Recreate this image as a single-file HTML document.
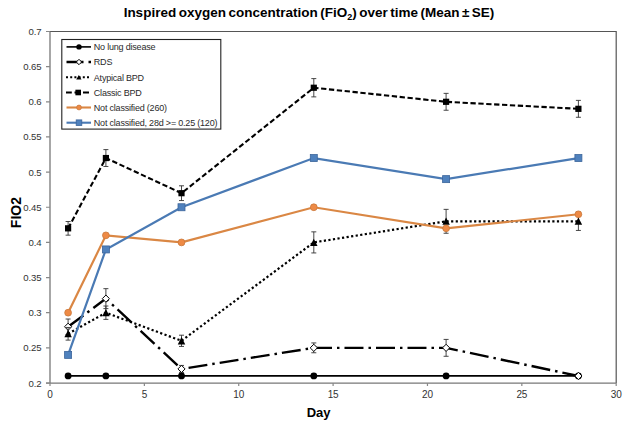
<!DOCTYPE html><html><head><meta charset="utf-8"><style>html,body{margin:0;padding:0;background:#fff;width:629px;height:427px;overflow:hidden}svg{display:block}text{font-family:"Liberation Sans",sans-serif}</style></head><body>
<svg width="629" height="427" viewBox="0 0 629 427">
<rect width="629" height="427" fill="#fff"/>
<text x="309" y="17.2" font-size="13.5" font-weight="bold" text-anchor="middle" word-spacing="-1.25" fill="#000">Inspired oxygen concentration (FiO<tspan font-size="9" dy="3">2</tspan><tspan dy="-3">) over time (Mean </tspan>± SE)</text>
<path d="M49.2 31.5H616.2V383" fill="none" stroke="#555" stroke-width="1.2"/>
<path d="M50 31.5V383.2M46 383.2H616.2" fill="none" stroke="#787878" stroke-width="1.3"/>
<path d="M46 383.00H50 M46 347.85H50 M46 312.70H50 M46 277.55H50 M46 242.40H50 M46 207.25H50 M46 172.10H50 M46 136.95H50 M46 101.80H50 M46 66.65H50 M46 31.50H50" stroke="#888" stroke-width="1.2"/>
<path d="M50.00 383V386 M144.37 383V386 M238.73 383V386 M333.10 383V386 M427.46 383V386 M521.83 383V386 M616.19 383V386" stroke="#888" stroke-width="1.2"/>
<text x="41.5" y="386.50" font-size="9.6" letter-spacing="-0.1" text-anchor="end" fill="#333">0.2</text>
<text x="41.5" y="351.35" font-size="9.6" letter-spacing="-0.1" text-anchor="end" fill="#333">0.25</text>
<text x="41.5" y="316.20" font-size="9.6" letter-spacing="-0.1" text-anchor="end" fill="#333">0.3</text>
<text x="41.5" y="281.05" font-size="9.6" letter-spacing="-0.1" text-anchor="end" fill="#333">0.35</text>
<text x="41.5" y="245.90" font-size="9.6" letter-spacing="-0.1" text-anchor="end" fill="#333">0.4</text>
<text x="41.5" y="210.75" font-size="9.6" letter-spacing="-0.1" text-anchor="end" fill="#333">0.45</text>
<text x="41.5" y="175.60" font-size="9.6" letter-spacing="-0.1" text-anchor="end" fill="#333">0.5</text>
<text x="41.5" y="140.45" font-size="9.6" letter-spacing="-0.1" text-anchor="end" fill="#333">0.55</text>
<text x="41.5" y="105.30" font-size="9.6" letter-spacing="-0.1" text-anchor="end" fill="#333">0.6</text>
<text x="41.5" y="70.15" font-size="9.6" letter-spacing="-0.1" text-anchor="end" fill="#333">0.65</text>
<text x="41.5" y="35.00" font-size="9.6" letter-spacing="-0.1" text-anchor="end" fill="#333">0.7</text>
<text x="50.00" y="398" font-size="10" letter-spacing="-0.2" text-anchor="middle" fill="#333">0</text>
<text x="144.37" y="398" font-size="10" letter-spacing="-0.2" text-anchor="middle" fill="#333">5</text>
<text x="238.73" y="398" font-size="10" letter-spacing="-0.2" text-anchor="middle" fill="#333">10</text>
<text x="333.10" y="398" font-size="10" letter-spacing="-0.2" text-anchor="middle" fill="#333">15</text>
<text x="427.46" y="398" font-size="10" letter-spacing="-0.2" text-anchor="middle" fill="#333">20</text>
<text x="521.83" y="398" font-size="10" letter-spacing="-0.2" text-anchor="middle" fill="#333">25</text>
<text x="616.19" y="398" font-size="10" letter-spacing="-0.2" text-anchor="middle" fill="#333">30</text>
<text x="318.6" y="416.8" font-size="13" font-weight="bold" text-anchor="middle" fill="#000">Day</text>
<text transform="translate(21.3 212.6) rotate(-90)" font-size="14" font-weight="bold" text-anchor="middle" fill="#000">FIO2</text>
<polyline points="68.10,375.97 105.90,375.97 181.50,375.97 313.80,375.97 446.10,375.97 578.40,375.97" fill="none" stroke="#000" stroke-width="1.8"/>
<circle cx="68.10" cy="375.97" r="3.4" fill="#000"/>
<circle cx="105.90" cy="375.97" r="3.4" fill="#000"/>
<circle cx="181.50" cy="375.97" r="3.4" fill="#000"/>
<circle cx="313.80" cy="375.97" r="3.4" fill="#000"/>
<circle cx="446.10" cy="375.97" r="3.4" fill="#000"/>
<circle cx="578.40" cy="375.97" r="3.4" fill="#000"/>
<path d="M68.10 319.03V334.49M65.60 319.03H70.60M65.60 334.49H70.60 M105.90 288.66V308.62M103.40 288.66H108.40M103.40 308.62H108.40 M181.50 365.43V372.45M179.00 365.43H184.00M179.00 372.45H184.00 M313.80 342.93V352.77M311.30 342.93H316.30M311.30 352.77H316.30 M446.10 339.41V356.29M443.60 339.41H448.60M443.60 356.29H448.60" fill="none" stroke="#333" stroke-width="0.9"/>
<polyline points="68.10,326.76 105.90,298.64 181.50,368.94 313.80,347.85 446.10,347.85 578.40,375.97" fill="none" stroke="#000" stroke-width="2.4" stroke-dasharray="19 5 2.5 5"/>
<path d="M68.10 323.16L71.70 326.76L68.10 330.36L64.50 326.76Z" fill="#fff" stroke="#000" stroke-width="1"/>
<path d="M105.90 295.04L109.50 298.64L105.90 302.24L102.30 298.64Z" fill="#fff" stroke="#000" stroke-width="1"/>
<path d="M181.50 365.34L185.10 368.94L181.50 372.54L177.90 368.94Z" fill="#fff" stroke="#000" stroke-width="1"/>
<path d="M313.80 344.25L317.40 347.85L313.80 351.45L310.20 347.85Z" fill="#fff" stroke="#000" stroke-width="1"/>
<path d="M446.10 344.25L449.70 347.85L446.10 351.45L442.50 347.85Z" fill="#fff" stroke="#000" stroke-width="1"/>
<path d="M578.40 372.37L582.00 375.97L578.40 379.57L574.80 375.97Z" fill="#fff" stroke="#000" stroke-width="1"/>
<path d="M68.10 327.46V340.12M65.60 327.46H70.60M65.60 340.12H70.60 M105.90 306.02V319.38M103.40 306.02H108.40M103.40 319.38H108.40 M181.50 335.20V346.44M179.00 335.20H184.00M179.00 346.44H184.00 M313.80 231.85V252.94M311.30 231.85H316.30M311.30 252.94H316.30 M446.10 209.36V233.26M443.60 209.36H448.60M443.60 233.26H448.60 M578.40 212.17V230.45M575.90 212.17H580.90M575.90 230.45H580.90" fill="none" stroke="#333" stroke-width="0.9"/>
<polyline points="68.10,333.79 105.90,312.70 181.50,340.82 313.80,242.40 446.10,221.31 578.40,221.31" fill="none" stroke="#000" stroke-width="2.2" stroke-dasharray="2.2 2.4"/>
<path d="M68.10 330.04L71.85 337.35L64.35 337.35Z" fill="#000"/>
<path d="M105.90 308.95L109.65 316.26L102.15 316.26Z" fill="#000"/>
<path d="M181.50 337.07L185.25 344.38L177.75 344.38Z" fill="#000"/>
<path d="M313.80 238.65L317.55 245.96L310.05 245.96Z" fill="#000"/>
<path d="M446.10 217.56L449.85 224.87L442.35 224.87Z" fill="#000"/>
<path d="M578.40 217.56L582.15 224.87L574.65 224.87Z" fill="#000"/>
<path d="M68.10 221.52V235.16M65.60 221.52H70.60M65.60 235.16H70.60 M105.90 149.60V166.48M103.40 149.60H108.40M103.40 166.48H108.40 M181.50 185.81V200.57M179.00 185.81H184.00M179.00 200.57H184.00 M313.80 78.60V96.88M311.30 78.60H316.30M311.30 96.88H316.30 M446.10 93.36V110.24M443.60 93.36H448.60M443.60 110.24H448.60 M578.40 100.39V117.27M575.90 100.39H580.90M575.90 117.27H580.90" fill="none" stroke="#333" stroke-width="0.9"/>
<polyline points="68.10,228.34 105.90,158.04 181.50,193.19 313.80,87.74 446.10,101.80 578.40,108.83" fill="none" stroke="#000" stroke-width="2.1" stroke-dasharray="5.3 2.6"/>
<rect x="65.00" y="225.24" width="6.2" height="6.2" fill="#000"/>
<rect x="102.80" y="154.94" width="6.2" height="6.2" fill="#000"/>
<rect x="178.40" y="190.09" width="6.2" height="6.2" fill="#000"/>
<rect x="310.70" y="84.64" width="6.2" height="6.2" fill="#000"/>
<rect x="443.00" y="98.70" width="6.2" height="6.2" fill="#000"/>
<rect x="575.30" y="105.73" width="6.2" height="6.2" fill="#000"/>
<polyline points="68.10,312.70 105.90,235.37 181.50,242.40 313.80,207.25 446.10,228.34 578.40,214.28" fill="none" stroke="#DA8744" stroke-width="2.2"/>
<circle cx="68.10" cy="312.70" r="3.4" fill="#EE8A45" stroke="#C9793C" stroke-width="0.8"/>
<circle cx="105.90" cy="235.37" r="3.4" fill="#EE8A45" stroke="#C9793C" stroke-width="0.8"/>
<circle cx="181.50" cy="242.40" r="3.4" fill="#EE8A45" stroke="#C9793C" stroke-width="0.8"/>
<circle cx="313.80" cy="207.25" r="3.4" fill="#EE8A45" stroke="#C9793C" stroke-width="0.8"/>
<circle cx="446.10" cy="228.34" r="3.4" fill="#EE8A45" stroke="#C9793C" stroke-width="0.8"/>
<circle cx="578.40" cy="214.28" r="3.4" fill="#EE8A45" stroke="#C9793C" stroke-width="0.8"/>
<polyline points="68.10,354.88 105.90,249.43 181.50,207.25 313.80,158.04 446.10,179.13 578.40,158.04" fill="none" stroke="#4A7AB4" stroke-width="2.2"/>
<rect x="64.60" y="351.38" width="7.0" height="7.0" fill="#4F81BD" stroke="#3C659B" stroke-width="0.8"/>
<rect x="102.40" y="245.93" width="7.0" height="7.0" fill="#4F81BD" stroke="#3C659B" stroke-width="0.8"/>
<rect x="178.00" y="203.75" width="7.0" height="7.0" fill="#4F81BD" stroke="#3C659B" stroke-width="0.8"/>
<rect x="310.30" y="154.54" width="7.0" height="7.0" fill="#4F81BD" stroke="#3C659B" stroke-width="0.8"/>
<rect x="442.60" y="175.63" width="7.0" height="7.0" fill="#4F81BD" stroke="#3C659B" stroke-width="0.8"/>
<rect x="574.90" y="154.54" width="7.0" height="7.0" fill="#4F81BD" stroke="#3C659B" stroke-width="0.8"/>
<rect x="61.8" y="39.5" width="159" height="89.6" fill="#fff" stroke="#222" stroke-width="1.1"/>
<path d="M66.5 46.9H91.0" stroke="#000" stroke-width="1.6"/>
<circle cx="79.00" cy="46.90" r="2.7" fill="#000"/>
<path d="M66.5 62.0H91.0" stroke="#000" stroke-width="2.3" stroke-dasharray="17 5 2.5 5"/>
<path d="M79.00 59.30L81.70 62.00L79.00 64.70L76.30 62.00Z" fill="#fff" stroke="#000" stroke-width="1"/>
<path d="M66 77.3H89" stroke="#000" stroke-width="2.1" stroke-dasharray="2 2.2"/>
<path d="M78.85 75.1L81.5 79.6L76.2 79.6Z" fill="#000"/>
<path d="M66 92.5H71.8M74.5 92.5H81M83 92.5H89" stroke="#000" stroke-width="2.1"/>
<rect x="75.40" y="89.70" width="5.6" height="5.6" fill="#000"/>
<path d="M66.5 107.5H91.0" stroke="#DA8744" stroke-width="2.1"/>
<circle cx="79.00" cy="107.50" r="2.4" fill="#EE8A45" stroke="#C9793C" stroke-width="0.8"/>
<path d="M66.5 122.7H91.0" stroke="#4A7AB4" stroke-width="2.1"/>
<rect x="76.20" y="119.90" width="5.6" height="5.6" fill="#4F81BD" stroke="#3C659B" stroke-width="0.8"/>
<text x="93.8" y="50.30" font-size="9" letter-spacing="-0.2" fill="#2a2a2a">No lung disease</text>
<text x="93.8" y="65.40" font-size="9" letter-spacing="-0.2" fill="#2a2a2a">RDS</text>
<text x="93.8" y="80.70" font-size="9" letter-spacing="-0.2" fill="#2a2a2a">Atypical BPD</text>
<text x="93.8" y="95.90" font-size="9" letter-spacing="-0.2" fill="#2a2a2a">Classic BPD</text>
<text x="93.8" y="110.90" font-size="9" letter-spacing="-0.2" fill="#2a2a2a">Not classified (260)</text>
<text x="93.8" y="126.10" font-size="9" letter-spacing="-0.2" fill="#2a2a2a">Not classified, 28d &gt;= 0.25 (120)</text>
</svg></body></html>
